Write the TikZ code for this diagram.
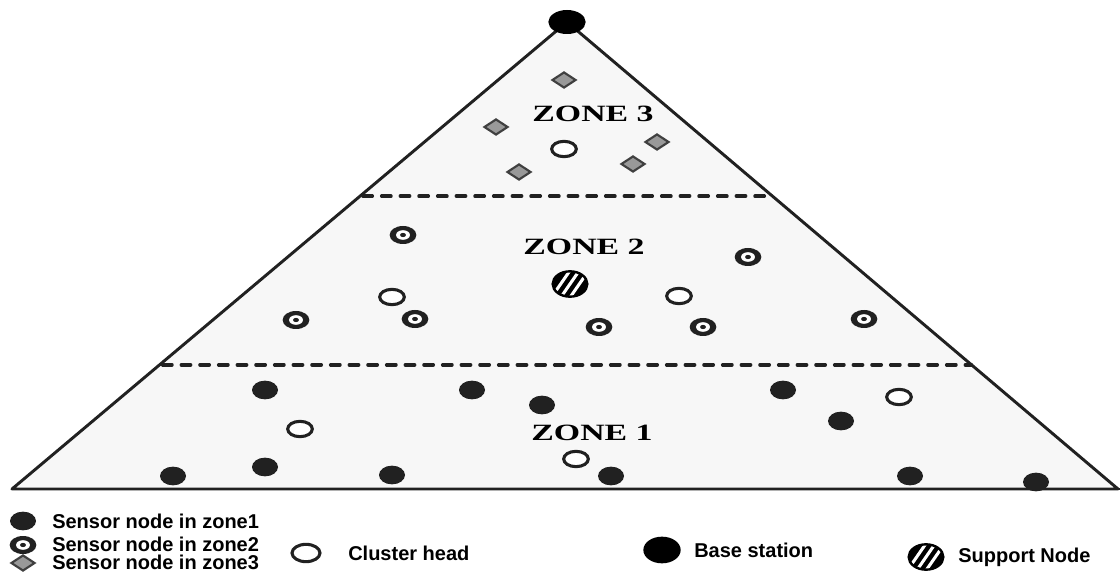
\documentclass[tikz,border=0pt]{standalone}
\usepackage{fontspec}
\setmainfont{Liberation Serif}
\setsansfont{Liberation Sans}
\usetikzlibrary{shapes.geometric, calc}

\begin{document}
\begin{tikzpicture}[x=0.75pt, y=-0.75pt,
  sone/.style={ellipse, fill=black!87, inner sep=0pt, minimum width=19.5pt, minimum height=14pt},
  stwo/.style={ellipse, fill=black!87, inner sep=0pt, minimum width=20pt, minimum height=13.5pt,
    path picture={\fill[white] (path picture bounding box.center) ellipse (5.2pt and 3.6pt);
      \fill[black!87] (path picture bounding box.center) ellipse (2.2pt and 1.6pt);}},
  sthree/.style={diamond, draw=black!75, line width=1.6pt, fill=black!40, inner sep=0pt,
    minimum width=18pt, minimum height=12pt},
  chead/.style={ellipse, draw=black!87, line width=2.3pt, fill=white, inner sep=0pt,
    minimum width=18.5pt, minimum height=11.5pt},
  bstation/.style={ellipse, fill=black, inner sep=0pt, minimum width=28pt, minimum height=18pt},
  support/.style={ellipse, draw=black, line width=1.8pt, fill=black, inner sep=0pt,
    minimum width=26pt, minimum height=19pt,
    path picture={\foreach \d in {-7,0,7}
      \draw[white, line width=2.3pt] ([xshift=\d pt]path picture bounding box.center)
        ++(-9pt,-13pt) -- ++(18pt,26pt);}},
  zonelabel/.style={inner sep=0pt, font=\fontsize{17.5}{20}\selectfont\bfseries},
  legend/.style={anchor=west, inner sep=0pt, font=\sffamily\bfseries\fontsize{15}{17}\selectfont},
  zoneline/.style={draw=black!87, line width=2.6pt, line cap=round, dash pattern=on 7pt off 7pt}]

  \useasboundingbox (0,0) rectangle (1120,573);

  % pyramid and zone borders
  \coordinate (apex) at (567,22);
  \coordinate (bl) at (12,489);
  \coordinate (br) at (1118,489);
  \coordinate (baseend) at (1121,489);
  \filldraw[fill=black!3, draw=black!87, line width=2.2pt, line join=round] (apex) -- (bl) -- (br) -- cycle;
  \draw[black!87, line width=2.2pt] (br) -- (baseend);
  \draw[zoneline] ($(apex)!0.373!(bl)+(3,0)$) -- ($(apex)!0.373!(br)$);
  \draw[zoneline] ($(apex)!0.734!(bl)+(3,0)$) -- ($(apex)!0.734!(br)$);

  \node[zonelabel] (z3) at (593,114) {\scalebox{1.45}[1]{ZONE 3}};
  \node[zonelabel] (z2) at (584,247) {\scalebox{1.45}[1]{ZONE 2}};
  \node[zonelabel] (z1) at (592,433) {\scalebox{1.45}[1]{ZONE 1}};

  % base station
  \node[bstation] (bs) at (apex) {};

  % zone 3
  \node[sthree] (s3a) at (564,80) {};
  \node[sthree] (s3b) at (496,127) {};
  \node[sthree] (s3c) at (657,142) {};
  \node[sthree] (s3d) at (519,172) {};
  \node[sthree] (s3e) at (633,164) {};
  \node[chead] (ch3) at (564,149) {};

  % zone 2
  \node[stwo] (s2a) at (403,235) {};
  \node[stwo] (s2b) at (748,257) {};
  \node[stwo] (s2c) at (296,320) {};
  \node[stwo] (s2d) at (415,319) {};
  \node[stwo] (s2e) at (599,327) {};
  \node[stwo] (s2f) at (703,327) {};
  \node[stwo] (s2g) at (864,319) {};
  \node[chead] (ch2a) at (392,297) {};
  \node[chead] (ch2b) at (679,296) {};
  \node[support] (sup) at (570,284) {};

  % zone 1
  \node[sone] (s1a) at (265,390) {};
  \node[sone] (s1b) at (472,390) {};
  \node[sone] (s1c) at (542,405) {};
  \node[sone] (s1d) at (783,390) {};
  \node[sone] (s1e) at (841,421) {};
  \node[sone] (s1f) at (173,476) {};
  \node[sone] (s1g) at (265,467) {};
  \node[sone] (s1h) at (392,475) {};
  \node[sone] (s1i) at (611,476) {};
  \node[sone] (s1j) at (910,476) {};
  \node[sone] (s1k) at (1036,482) {};
  \node[chead] (ch1a) at (300,429) {};
  \node[chead] (ch1b) at (899,397) {};
  \node[chead] (ch1c) at (576,459) {};

  % legend
  \node[sone] (lg1) at (23,521) {};
  \node[stwo] (lg2) at (23,545) {};
  \node[sthree] (lg3) at (23,563) {};
  \node[legend] (t1) at (52,521) {Sensor node in zone1};
  \node[legend] (t2) at (52,544) {Sensor node in zone2};
  \node[legend] (t3) at (52,562) {Sensor node in zone3};
  \node[chead, minimum width=21pt, minimum height=13pt] (lgc) at (306,553) {};
  \node[legend] (tc) at (348,553) {Cluster head};
  \node[bstation, minimum height=20pt] (lgb) at (662,550) {};
  \node[legend] (tb) at (694,550) {Base station};
  \node[support] (lgs) at (926,557) {};
  \node[legend] (ts) at (958,557) {Support Node};
\end{tikzpicture}
\end{document}
